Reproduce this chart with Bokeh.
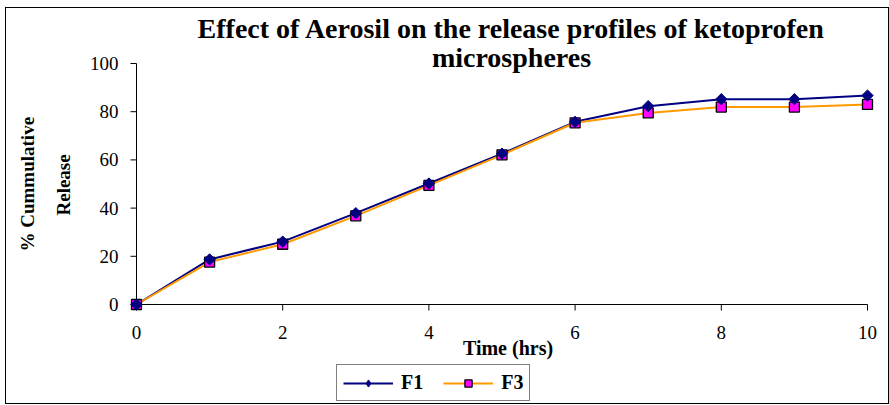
import math
from bokeh.plotting import figure
from bokeh.layouts import column
from bokeh.models import Range1d, FixedTicker, Label, Legend, LegendItem, Title
from bokeh.embed import file_html
from bokeh.resources import INLINE

# ---- data ----
time_hrs = [0, 1, 2, 3, 4, 5, 6, 7, 8, 9, 10]
f1 = [0, 18.7, 26.1, 37.9, 50.2, 62.6, 75.8, 82.3, 85.2, 85.2, 86.7]
f3 = [0, 17.6, 25.0, 36.8, 49.4, 62.1, 75.4, 79.5, 81.9, 81.9, 83.0]
series_names = ["F1", "F3"]
x_ticks = [0, 2, 4, 6, 8, 10]
y_ticks = [0, 20, 40, 60, 80, 100]
title_lines = ["Effect of Aerosil on the release profiles of ketoprofen", "microspheres"]
y_label_lines = ["% Cummulative", "Release"]
x_label = "Time (hrs)"

# ---- layout: page pixel positions, converted to figure pixels ----
OX, OY = 6, 8                 # where the content starts on the page (inside the border)
W = 882
H_MAIN, H_LEG = 356, 39
FL = 127 - OX                 # frame left
FB = 312 - OY                 # frame bottom
FT, FR = 0, W                 # frame reaches the top and right edge
X0, X10 = 136 - OX, 867 - OX  # pixel of x=0 and x=10
Y0, Y100 = 304 - OY, 63 - OY  # pixel of y=0 and y=100
xmin, xmax = x_ticks[0], x_ticks[-1]
ymin, ymax = y_ticks[0], y_ticks[-1]
sx = (X10 - X0) / (xmax - xmin)
sy = (Y0 - Y100) / (ymax - ymin)
x_range = Range1d(xmin - (X0 - FL) / sx, xmax + (FR - X10) / sx)
y_range = Range1d(ymin - (FB - Y0) / sy, ymax + (Y100 - FT) / sy)

def px_to_x(px):
    return xmin + (px - OX - X0) / sx

def px_to_y(py):
    return ymin + (Y0 - (py - OY)) / sy

SERIF = "Liberation Serif"
F1_COLOR, F3_COLOR, F3_FILL = "#000080", "#FF9900", "#FF00FF"

p = figure(width=W, height=H_MAIN, x_range=x_range, y_range=y_range,
           output_backend="svg", toolbar_location=None,
           min_border_left=FL, min_border_right=W - FR,
           min_border_top=FT, min_border_bottom=H_MAIN - FB)
p.outline_line_color = None
p.grid.visible = False
p.background_fill_color = "white"
p.border_fill_color = "white"

for ax, ticks in ((p.xaxis, x_ticks), (p.yaxis, y_ticks)):
    ax.ticker = FixedTicker(ticks=ticks)
    ax.axis_line_color = None
    ax.major_tick_line_color = None
    ax.minor_tick_line_color = None
    ax.major_tick_in = 0
    ax.major_tick_out = 0
    ax.major_label_text_font = SERIF
    ax.major_label_text_font_size = "19px"
    ax.major_label_text_color = "black"

p.xaxis.major_label_standoff = 13
p.yaxis.major_label_standoff = 9
p.xaxis.axis_label = x_label
p.xaxis.axis_label_text_font = SERIF
p.xaxis.axis_label_text_font_style = "bold"
p.xaxis.axis_label_text_font_size = "20px"
p.xaxis.axis_label_text_color = "black"
p.xaxis.axis_label_standoff = -5

# axis lines and tick marks drawn at the data origin
tick_x = 6 / sx
tick_y = 6 / sy
p.segment(x0=[xmin, xmin], y0=[ymin, ymin], x1=[xmin, xmax], y1=[ymax, ymin],
          line_color="black", line_width=1)
p.segment(x0=[xmin - tick_x] * len(y_ticks), y0=y_ticks, x1=[xmin] * len(y_ticks), y1=y_ticks,
          line_color="black", line_width=1)
p.segment(x0=x_ticks, y0=[ymin - tick_y] * len(x_ticks), x1=x_ticks, y1=[ymin] * len(x_ticks),
          line_color="black", line_width=1)

def draw_series(fig, f1_marker):
    r1 = [fig.line(time_hrs, f1, line_color=F1_COLOR, line_width=2)]
    r3 = [fig.line(time_hrs, f3, line_color=F3_COLOR, line_width=2)]
    r3.append(fig.scatter(time_hrs, f3, marker="square", size=10, fill_color=F3_FILL,
                          line_color="black", line_width=1.3))
    r1.append(fig.scatter(time_hrs, f1, fill_color=F1_COLOR, line_color=F1_COLOR,
                          line_width=1, **f1_marker))
    return r1, r3

draw_series(p, dict(marker="square", angle=math.pi / 4, size=8))

# chart title (inside the tall frame, above the data)
for txt, mid_py in zip(title_lines, (27.5, 56.5)):
    p.add_layout(Label(x=px_to_x(511), y=px_to_y(mid_py), text=txt,
                       text_align="center", text_baseline="middle",
                       text_font=SERIF, text_font_style="bold",
                       text_font_size="28px", text_color="black"))

# y axis title: two stacked vertical lines in the left panel
for txt, standoff, offset in zip(reversed(y_label_lines), (26, 0), (97, 61)):
    p.add_layout(Title(text=txt, align="left", offset=offset, standoff=standoff,
                       text_font=SERIF, text_font_style="bold",
                       text_font_size="19px", text_color="black"), "left")

# ---- legend strip under the chart (its own copy of the series lies off view) ----
leg = figure(width=W, height=H_LEG, x_range=(-20, -19), y_range=(-20, -19),
             output_backend="svg", toolbar_location=None,
             x_axis_type=None, y_axis_type=None,
             min_border_left=0, min_border_right=0, min_border_top=0, min_border_bottom=0)
leg.outline_line_color = None
leg.grid.visible = False
leg.border_fill_color = "white"
leg.background_fill_color = "white"
k1, k3 = draw_series(leg, dict(marker="diamond", size=13))
legend = Legend(items=[LegendItem(label=series_names[0], renderers=k1),
                       LegendItem(label=series_names[1], renderers=k3)],
                orientation="horizontal", location=(336 - 127, 2))
legend.label_text_font = SERIF
legend.label_text_font_style = "bold"
legend.label_text_font_size = "20px"
legend.label_text_color = "black"
legend.glyph_width = 50
legend.glyph_height = 18
legend.label_height = 18
legend.label_standoff = 8
legend.spacing = 20
legend.padding = 6
legend.margin = 0
legend.border_line_color = "black"
legend.border_line_width = 1
legend.background_fill_alpha = 1
leg.add_layout(legend, "center")

page = column(p, leg, spacing=0,
              styles={"margin-left": "5px", "margin-top": "7px",
                      "border": "1px solid black", "background": "white"})

open("out.html", "w").write(file_html(page, INLINE))
